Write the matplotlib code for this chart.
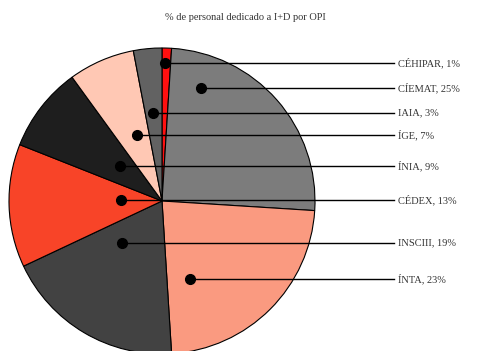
import numpy as np
import matplotlib
matplotlib.use("Agg")
import matplotlib.pyplot as plt

# pie order, clockwise from 12 o'clock
organismos = ["CÉHIPAR", "CÍEMAT", "ÍNTA", "INSCIII", "CÉDEX", "ÍNIA", "ÍGE", "IAIA"]
porcentajes = [1, 25, 23, 19, 13, 9, 7, 3]
colores = ["#ff1010", "#7c7c7c", "#fa9a80", "#424242", "#f84428", "#1e1e1e", "#ffc8b4", "#626262"]

# where the leader dot sits inside each slice (fraction of angle, fraction of radius)
frac_ang = [0.36, 0.17, 0.80, 0.69, 0.57, 0.57, 0.61, 0.46]
frac_rad = [0.90, 0.78, 0.54, 0.38, 0.27, 0.36, 0.46, 0.58]

W, H = 482, 351
cx, cy, R = 162, H - 201, 153

fig = plt.figure(figsize=(W / 100, H / 100), dpi=100)
ax = fig.add_axes([0, 0, 1, 1])

ax.pie(porcentajes, colors=colores, startangle=90, counterclock=False,
       center=(cx, cy), radius=R, frame=True,
       wedgeprops=dict(edgecolor="black", linewidth=0.8))

ax.set_xlim(0, W)
ax.set_ylim(0, H)
ax.set_aspect("equal")
ax.axis("off")

total = sum(porcentajes)
acum = np.concatenate([[0], np.cumsum(porcentajes)])
ini = 90 - acum[:-1] / total * 360
fin = 90 - acum[1:] / total * 360

for i, nombre in enumerate(organismos):
    a = np.radians(ini[i] + frac_ang[i] * (fin[i] - ini[i]))
    x = cx + frac_rad[i] * R * np.cos(a)
    y = cy + frac_rad[i] * R * np.sin(a)
    ax.plot([x, 394], [y, y], color="black", lw=1.0, zorder=5)
    ax.plot(x, y, "o", color="black", ms=7, zorder=6)
    ax.text(398, y, f"{nombre}, {porcentajes[i]}%", fontsize=7.5,
            family="Liberation Serif", va="center", ha="left", color="#333333")

ax.text(245, H - 17, "% de personal dedicado a I+D por OPI", fontsize=7.5,
        family="Liberation Serif", ha="center", va="center", color="#333333")

fig.savefig("out.png", dpi=100)
